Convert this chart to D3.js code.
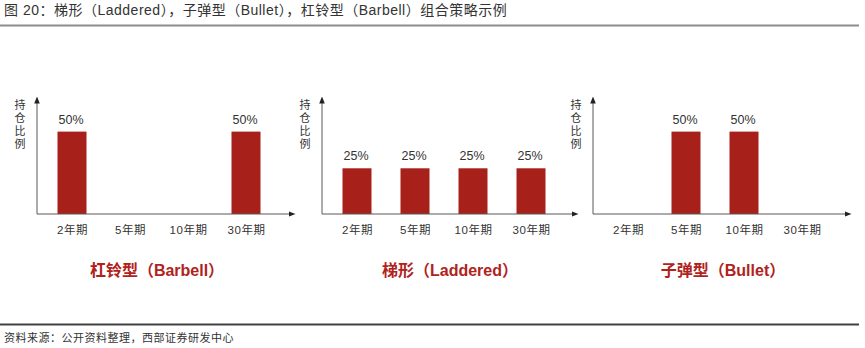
<!DOCTYPE html>
<html>
<head>
<meta charset="utf-8">
<script src="https://cdn.jsdelivr.net/npm/d3@7"></script>
<style>
  body { margin: 0; background: #fff; }
  svg { display: block; }
</style>
</head>
<body>
<div id="chart"></div>
<script>
// data
var terms = ["2年期", "5年期", "10年期", "30年期"];
var panelTitles = ["杠铃型（Barbell）", "梯形（Laddered）", "子弹型（Bullet）"];
var barbellValues = [50, 0, 0, 50];
var ladderedValues = [25, 25, 25, 25];
var bulletValues = [0, 50, 50, 0];
var axisMax = [71, 64, 71];
var yLabelChars = ["持", "仓", "比", "例"];

var width = 865, height = 348;
var barColor = "#a8201a";
var titleColor = "#b0231d";
var textColor = "#333";
var cjk = "'Liberation Sans', Arial, 'Noto Sans CJK SC', sans-serif";

var svg = d3.select("#chart")
    .append("svg")
    .attr("width", width)
    .attr("height", height);

// header
svg.append("text")
    .attr("x", 4)
    .attr("y", 15)
    .style("font-family", cjk)
    .style("font-size", "14px")
    .style("letter-spacing", "0.5px")
    .attr("fill", textColor)
    .text("图 20：梯形（Laddered），子弹型（Bullet），杠铃型（Barbell）组合策略示例");

svg.append("line")
    .attr("x1", 0).attr("x2", 859)
    .attr("y1", 25.5).attr("y2", 25.5)
    .attr("stroke", "#8c8c8c")
    .attr("stroke-width", 2);

svg.append("line")
    .attr("x1", 0).attr("x2", 859)
    .attr("y1", 324.5).attr("y2", 324.5)
    .attr("stroke", "#404040")
    .attr("stroke-width", 2);

svg.append("text")
    .attr("x", 4)
    .attr("y", 342)
    .style("font-family", cjk)
    .style("font-size", "11px")
    .style("letter-spacing", "0.5px")
    .attr("fill", textColor)
    .text("资料来源：公开资料整理，西部证券研发中心");

var defs = svg.append("defs");
defs.append("marker")
    .attr("id", "arrow")
    .attr("viewBox", "0 0 10 10")
    .attr("refX", 5).attr("refY", 5)
    .attr("markerWidth", 7).attr("markerHeight", 7)
    .attr("orient", "auto")
    .append("path")
    .attr("d", "M0,1 L10,5 L0,9 Z")
    .attr("fill", "#222");

var panels = [
    { left: 37, right: 295, titleX: 120, values: barbellValues },
    { left: 322, right: 578, titleX: 128, values: ladderedValues },
    { left: 593, right: 851, titleX: 130, values: bulletValues }
];

var baseY = 214, topY = 97, barW = 29;

panels.forEach(function (p, i) {
    var g = svg.append("g").attr("transform", "translate(" + p.left + ",0)");

    var x = d3.scalePoint()
        .domain(terms)
        .range([35, 209]);

    var y = d3.scaleLinear()
        .domain([0, axisMax[i]])
        .range([baseY, topY]);

    var data = terms.map(function (t, k) { return { term: t, value: p.values[k] }; });
    var shown = data.filter(function (d) { return d.value > 0; });

    g.selectAll(".bar")
        .data(shown)
        .enter()
        .append("rect")
        .attr("class", "bar")
        .attr("x", function (d) { return x(d.term) - barW / 2; })
        .attr("y", function (d) { return y(d.value); })
        .attr("width", barW)
        .attr("height", function (d) { return baseY - y(d.value); })
        .attr("fill", barColor);

    g.selectAll(".val")
        .data(shown)
        .enter()
        .append("text")
        .attr("class", "val")
        .attr("x", function (d) { return x(d.term) - 1; })
        .attr("y", function (d) { return y(d.value) - 8; })
        .attr("text-anchor", "middle")
        .style("font-family", cjk)
        .style("font-size", "12.5px")
        .attr("fill", textColor)
        .text(function (d) { return d.value + "%"; });

    // axes
    g.append("line")
        .attr("x1", 0).attr("x2", 0)
        .attr("y1", baseY).attr("y2", topY + 3)
        .attr("stroke", "#595959")
        .attr("stroke-width", 1)
        .attr("marker-end", "url(#arrow)");

    g.append("line")
        .attr("x1", 0).attr("x2", p.right - p.left - 3)
        .attr("y1", baseY).attr("y2", baseY)
        .attr("stroke", "#595959")
        .attr("stroke-width", 1)
        .attr("marker-end", "url(#arrow)");

    var xAxis = d3.axisBottom(x).tickSize(0).tickPadding(12);
    var ax = g.append("g")
        .attr("transform", "translate(0," + baseY + ")")
        .call(xAxis);
    ax.select(".domain").remove();
    ax.selectAll("text")
        .style("font-family", cjk)
        .style("font-size", "11.5px")
        .style("letter-spacing", "0.5px")
        .attr("fill", textColor);

    // y label, one char per line
    g.selectAll(".ylab")
        .data(yLabelChars)
        .enter()
        .append("text")
        .attr("class", "ylab")
        .attr("x", -17)
        .attr("y", function (d, k) { return 109 + k * 13; })
        .attr("text-anchor", "middle")
        .style("font-family", cjk)
        .style("font-size", "11px")
        .attr("fill", textColor)
        .text(function (d) { return d; });

    g.append("text")
        .attr("x", p.titleX)
        .attr("y", 276)
        .attr("text-anchor", "middle")
        .style("font-family", cjk)
        .style("font-size", "16px")
        .style("font-weight", "bold")
        .attr("fill", titleColor)
        .text(panelTitles[i]);
});
</script>
</body>
</html>
